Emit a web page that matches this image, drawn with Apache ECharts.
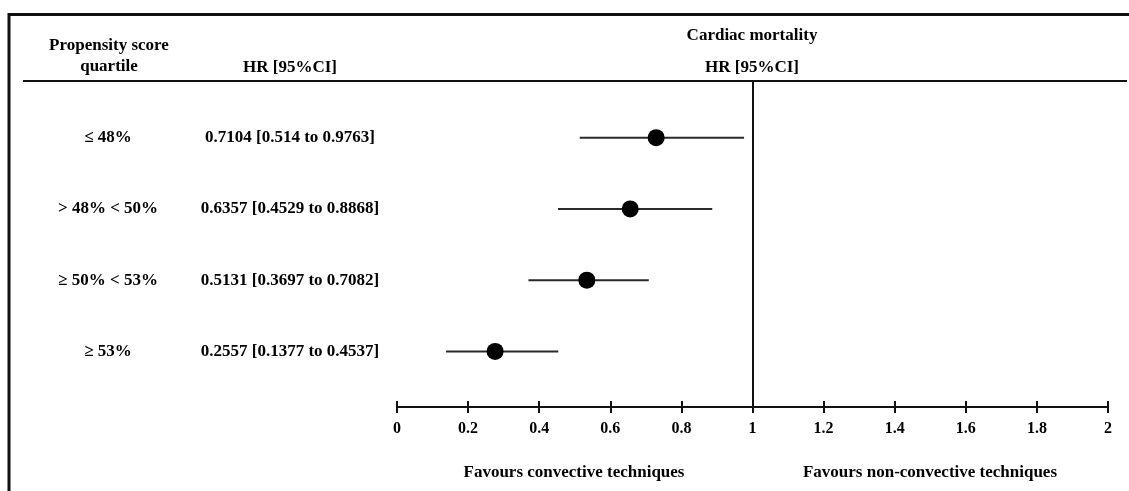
<!DOCTYPE html>
<html>
<head>
<meta charset="utf-8">
<title>Cardiac mortality forest plot</title>
<script src="https://cdn.jsdelivr.net/npm/echarts@6/dist/echarts.min.js"></script>
<style>
html,body{margin:0;padding:0;background:#fff;}
#main{width:1129px;height:491px;}
</style>
</head>
<body>
<div id="main"></div>
<script>
// rows of the table
var quartiles = ['\u2264 48%', '> 48% < 50%', '\u2265 50% < 53%', '\u2265 53%'];
var hrLabels = ['0.7104 [0.514 to 0.9763]', '0.6357 [0.4529 to 0.8868]', '0.5131 [0.3697 to 0.7082]', '0.2557 [0.1377 to 0.4537]'];
// marker position as drawn, and CI ends
var hrPoint = [0.729, 0.656, 0.534, 0.276];
var ciLow = [0.514, 0.4529, 0.3697, 0.1377];
var ciHigh = [0.9763, 0.8868, 0.7082, 0.4537];
// x axis
var xMin = 0, xMax = 2, xStep = 0.2;
var refLine = 1;

var serif = '"Liberation Serif", "Times New Roman", serif';
var ink = '#111';

var ciData = [], pointData = [];
for (var i = 0; i < quartiles.length; i++) {
	ciData.push([ciLow[i], ciHigh[i], i]);
	pointData.push([hrPoint[i], i]);
}

function txt(x, y, s) {
	return {
		type: 'text', x: x, y: y, silent: true,
		style: { text: s, fill: '#000', font: 'bold 17px ' + serif, textAlign: 'center', textVerticalAlign: 'middle' }
	};
}
function ln(x1, y1, x2, y2, w) {
	return { type: 'line', silent: true, shape: { x1: x1, y1: y1, x2: x2, y2: y2 }, style: { stroke: ink, lineWidth: w } };
}

var chart = echarts.init(document.getElementById('main'));
var option = {
	animation: false,
	backgroundColor: '#fff',
	grid: [
		{ left: 397, right: 21, top: 102, bottom: 104 },  // rows
		{ left: 397, right: 21, top: 81, bottom: 78 }     // reference line
	],
	xAxis: [
		{
			type: 'value', gridIndex: 0, min: xMin, max: xMax, interval: xStep,
			position: 'bottom', offset: 20,
			axisLine: { show: true, lineStyle: { color: ink, width: 2 } },
			axisTick: { show: true, length: 6, lineStyle: { color: ink, width: 2 } },
			axisLabel: {
				margin: 14, color: '#000', fontFamily: serif, fontWeight: 'bold', fontSize: 16,
				formatter: function (v) { return String(+v.toFixed(1)); }
			},
			splitLine: { show: false }
		},
		{
			// inner half of the ticks
			type: 'value', gridIndex: 0, min: xMin, max: xMax, interval: xStep,
			position: 'bottom', offset: 20,
			axisLine: { show: false },
			axisTick: { show: true, inside: true, length: 6, lineStyle: { color: ink, width: 2 } },
			axisLabel: { show: false },
			splitLine: { show: false }
		},
		{ type: 'value', gridIndex: 1, min: xMin, max: xMax, show: false }
	],
	yAxis: [
		{
			type: 'category', gridIndex: 0, data: quartiles, inverse: true, position: 'left',
			axisLine: { show: false }, axisTick: { show: false },
			axisLabel: { margin: 289, align: 'center', color: '#000', fontFamily: serif, fontWeight: 'bold', fontSize: 17 }
		},
		{
			type: 'category', gridIndex: 0, data: hrLabels, inverse: true, position: 'left',
			axisLine: { show: false }, axisTick: { show: false },
			axisLabel: { margin: 107, align: 'center', color: '#000', fontFamily: serif, fontWeight: 'bold', fontSize: 17 }
		},
		{ type: 'value', gridIndex: 1, min: 0, max: 1, show: false }
	],
	series: [
		{
			name: 'CI', type: 'custom', xAxisIndex: 0, yAxisIndex: 0,
			encode: { x: [0, 1], y: 2 },
			data: ciData,
			renderItem: function (params, api) {
				var a = api.coord([api.value(0), api.value(2)]);
				var b = api.coord([api.value(1), api.value(2)]);
				return {
					type: 'line',
					shape: { x1: a[0], y1: a[1], x2: b[0], y2: b[1] },
					style: { stroke: '#2a2a2a', lineWidth: 2 }
				};
			},
			z: 2
		},
		{
			name: 'HR', type: 'scatter', xAxisIndex: 0, yAxisIndex: 0,
			data: pointData, symbol: 'circle', symbolSize: 17,
			itemStyle: { color: '#000', opacity: 1 }, z: 3
		},
		{
			name: 'ref', type: 'line', xAxisIndex: 2, yAxisIndex: 2, data: [],
			markLine: {
				silent: true, symbol: 'none', label: { show: false },
				lineStyle: { color: ink, width: 2, type: 'solid' },
				data: [{ xAxis: refLine }]
			}
		}
	],
	graphic: [
		// frame
		ln(9, 14.5, 1129, 14.5, 3),
		ln(9, 13, 9, 491, 3),
		ln(23, 81, 1127, 81, 2),
		// headings
		txt(109, 46, 'Propensity score'),
		txt(109, 67, 'quartile'),
		txt(290, 68, 'HR [95%CI]'),
		txt(752, 36, 'Cardiac mortality'),
		txt(752, 68, 'HR [95%CI]'),
		txt(574, 473, 'Favours convective techniques'),
		txt(930, 473, 'Favours non-convective techniques')
	]
};
chart.setOption(option);
</script>
</body>
</html>
